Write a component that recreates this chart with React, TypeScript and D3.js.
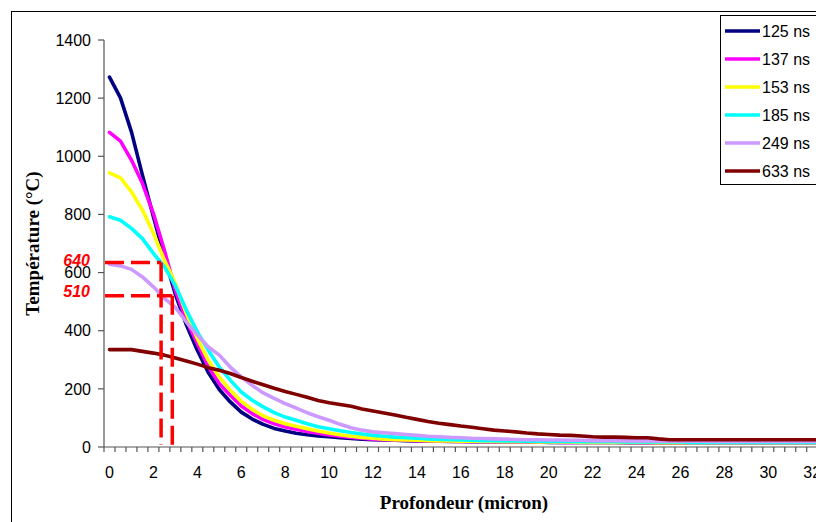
import React from "react";
import * as d3 from "d3";

// ---- Data ----
const depths = [
  0, 0.5, 1, 1.5, 2, 2.5, 3, 3.5, 4, 4.5, 5, 5.5, 6, 6.5, 7, 7.5, 8, 8.5, 9, 9.5,
  10, 10.5, 11, 11.5, 12, 12.5, 13, 13.5, 14, 14.5, 15, 15.5, 16, 16.5, 17, 17.5, 18, 18.5, 19, 19.5,
  20, 20.5, 21, 21.5, 22, 22.5, 23, 23.5, 24, 24.5, 25, 25.5, 26, 26.5, 27, 27.5, 28, 28.5, 29, 29.5,
  30, 30.5, 31, 31.5, 32, 32.5,
];

const xTickLabels = [0, 2, 4, 6, 8, 10, 12, 14, 16, 18, 20, 22, 24, 26, 28, 30, 32];
const yTickValues = [0, 200, 400, 600, 800, 1000, 1200, 1400];

const seriesNames = ["125 ns", "137 ns", "153 ns", "185 ns", "249 ns", "633 ns"];
const seriesColors = ["#000080", "#FF00FF", "#FFFF00", "#00FFFF", "#CC99FF", "#800000"];

const t125 = [
  1272, 1201, 1084, 935, 792, 654, 525, 420, 333, 256,
  198, 155, 120, 96, 78, 64, 55, 47, 42, 38,
  35, 32, 29, 27, 25, 24, 23, 22, 21, 20,
  20, 19, 19, 18, 18, 18, 17, 17, 17, 17,
  16, 16, 16, 16, 16, 16, 16, 15, 15, 15,
  15, 15, 15, 15, 15, 15, 15, 15, 15, 15,
  15, 15, 15, 15, 15, 15,
];
const t137 = [
  1082, 1052, 987, 907, 803, 677, 539, 436, 356, 276,
  218, 178, 141, 115, 94, 80, 69, 61, 53, 47,
  41, 37, 33, 30, 27, 25, 24, 23, 22, 21,
  20, 20, 19, 19, 18, 18, 18, 17, 17, 17,
  17, 16, 16, 16, 16, 16, 16, 16, 15, 15,
  15, 15, 15, 15, 15, 15, 15, 15, 15, 15,
  15, 15, 15, 15, 15, 15,
];
const t153 = [
  943, 926, 878, 815, 735, 643, 562, 459, 373, 298,
  241, 195, 157, 129, 107, 92, 80, 71, 63, 55,
  48, 42, 37, 33, 30, 27, 25, 24, 23, 22,
  21, 21, 20, 20, 19, 19, 18, 18, 18, 17,
  17, 17, 17, 16, 16, 16, 16, 16, 16, 16,
  15, 15, 15, 15, 15, 15, 15, 15, 15, 15,
  15, 15, 15, 15, 15, 15,
];
const t185 = [
  792, 780, 752, 717, 666, 620, 555, 471, 396, 333,
  275, 230, 189, 161, 138, 118, 103, 92, 80, 70,
  63, 56, 50, 45, 40, 37, 34, 32, 30, 28,
  26, 25, 24, 23, 22, 22, 21, 21, 20, 20,
  19, 19, 19, 18, 18, 18, 18, 17, 17, 17,
  17, 17, 17, 16, 16, 16, 16, 16, 16, 16,
  16, 16, 16, 16, 16, 16,
];
const t249 = [
  629, 623, 611, 585, 551, 511, 480, 430, 385, 344,
  316, 275, 241, 212, 186, 167, 149, 134, 118, 104,
  92, 78, 66, 58, 52, 49, 46, 43, 40, 37,
  35, 33, 32, 30, 29, 28, 27, 26, 25, 25,
  24, 24, 23, 23, 22, 22, 22, 21, 21, 21,
  20, 20, 20, 20, 20, 19, 19, 19, 19, 19,
  19, 19, 19, 19, 19, 19,
];
const t633 = [
  335, 335, 335, 329, 323, 316, 306, 296, 285, 273,
  264, 253, 239, 226, 214, 202, 191, 181, 171, 160,
  152, 146, 140, 131, 124, 117, 110, 102, 95, 88,
  82, 77, 72, 68, 63, 58, 55, 52, 48, 45,
  43, 41, 40, 38, 35, 34, 34, 33, 32, 32,
  28, 25, 25, 25, 25, 25, 25, 25, 25, 25,
  25, 25, 25, 25, 25, 25,
];
const seriesValues = [t125, t137, t153, t185, t249, t633];

// dashed reference markers
const markerLabels = ["640", "510"];
const markerValues = [635, 520];
const markerDepths = [2.35, 2.86];

export default function App() {
  const W = 816;
  const H = 522;
  const plotLeft = 104;
  const plotTop = 40;
  const plotBottom = 447;
  const catW = 10.98;
  const plotRight = plotLeft + catW * depths.length;

  const x = d3
    .scaleBand<string>()
    .domain(depths.map(String))
    .range([plotLeft, plotRight])
    .paddingInner(0)
    .paddingOuter(0);
  const bw = x.bandwidth();
  const cx = (d: number) => (x(String(d)) as number) + bw / 2;
  const xLin = d3
    .scaleLinear()
    .domain([depths[0], depths[depths.length - 1]])
    .range([cx(depths[0]), cx(depths[depths.length - 1])]);
  const y = d3.scaleLinear().domain([0, 1400]).range([plotBottom, plotTop]);

  const line = d3
    .line<number>()
    .x((_, i) => cx(depths[i]))
    .y((v) => y(v))
    .curve(d3.curveLinear);

  const sans = "'Liberation Sans', Arial, sans-serif";
  const serif = "'Liberation Serif', 'Times New Roman', serif";
  const axisColor = "#555";

  const boundaries = depths.map((d) => x(String(d)) as number).concat([plotRight]);

  const legendX = 720.5;
  const legendY = 15.5;
  const rowStart = 31;
  const rowStep = 28;

  return (
    <svg
      width={W}
      height={H}
      style={{ position: "fixed", left: 0, top: 0, background: "#fff" }}
    >
      <rect x={0} y={0} width={W} height={H} fill="#fff" />
      {/* chart frame */}
      <rect x={11.5} y={11.5} width={900} height={600} fill="none" stroke="#000" strokeWidth={1} />

      {/* y axis */}
      <line x1={plotLeft} x2={plotLeft} y1={plotTop} y2={plotBottom} stroke={axisColor} strokeWidth={1.2} />
      {yTickValues.map((v) => (
        <g key={"yt" + v}>
          <line x1={plotLeft - 6} x2={plotLeft} y1={y(v)} y2={y(v)} stroke={axisColor} strokeWidth={1.2} />
          <text x={91} y={y(v)} dy="0.36em" textAnchor="end" fontFamily={sans} fontSize={16} fill="#000">
            {v}
          </text>
        </g>
      ))}

      {/* x axis */}
      <line x1={plotLeft} x2={plotRight} y1={plotBottom} y2={plotBottom} stroke={axisColor} strokeWidth={1.2} />
      {boundaries.map((bx, i) => (
        <line key={"xt" + i} x1={bx} x2={bx} y1={plotBottom} y2={plotBottom + 5} stroke={axisColor} strokeWidth={1.2} />
      ))}
      {xTickLabels.map((d) => (
        <text key={"xl" + d} x={cx(d)} y={478} textAnchor="middle" fontFamily={sans} fontSize={16} fill="#000">
          {d}
        </text>
      ))}

      {/* series */}
      {seriesValues.map((vals, si) => (
        <path
          key={"s" + si}
          d={line(vals) || ""}
          fill="none"
          stroke={seriesColors[si]}
          strokeWidth={3.6}
          strokeLinejoin="round"
          strokeLinecap="round"
        />
      ))}

      {/* dashed markers */}
      {markerValues.map((v, i) => (
        <g key={"m" + i}>
          <line
            x1={plotLeft + 1}
            x2={xLin(markerDepths[i])}
            y1={y(v)}
            y2={y(v)}
            stroke="#FF0000"
            strokeWidth={3.5}
            strokeDasharray="19,7"
          />
          <line
            x1={xLin(markerDepths[i])}
            x2={xLin(markerDepths[i])}
            y1={y(v)}
            y2={plotBottom - 2}
            stroke="#FF0000"
            strokeWidth={3.5}
            strokeDasharray="19,7"
          />
          <text
            x={90}
            y={y(v) + (i === 0 ? 4 : 1.5)}
            textAnchor="end"
            fontFamily={sans}
            fontSize={16}
            fontWeight="bold"
            fontStyle="italic"
            fill="#FF0000"
          >
            {markerLabels[i]}
          </text>
        </g>
      ))}

      {/* axis titles */}
      <text x={464} y={509} textAnchor="middle" fontFamily={serif} fontSize={19} fontWeight="bold" fill="#000">
        Profondeur (micron)
      </text>
      <text
        transform={`translate(39, ${(plotTop + plotBottom) / 2}) rotate(-90)`}
        textAnchor="middle"
        fontFamily={serif}
        fontSize={19}
        fontWeight="bold"
        fill="#000"
      >
        Température (°C)
      </text>

      {/* legend */}
      <rect x={legendX} y={legendY} width={200} height={169} fill="#fff" stroke="#000" strokeWidth={1} />
      {seriesNames.map((name, i) => (
        <g key={"lg" + i}>
          <line
            x1={725}
            x2={760}
            y1={rowStart + i * rowStep}
            y2={rowStart + i * rowStep}
            stroke={seriesColors[i]}
            strokeWidth={3.6}
          />
          <text x={762} y={rowStart + i * rowStep} dy="0.36em" fontFamily={sans} fontSize={16} fill="#000">
            {name}
          </text>
        </g>
      ))}
    </svg>
  );
}
